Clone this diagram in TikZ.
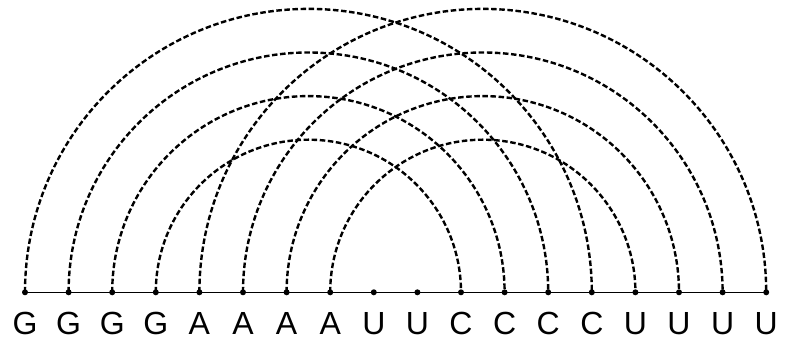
\documentclass[tikz,border=0pt]{standalone}
\usepackage{fontspec}
\setmainfont{Liberation Sans}
\begin{document}
\begin{tikzpicture}[x=1pt,y=1pt,
  dot/.style={circle,fill=black,inner sep=0pt,minimum size=6pt},
  base/.style={inner sep=0pt,font=\fontsize{32}{32}\selectfont},
  pairarc/.style={draw=black,line width=2.4pt,dash pattern=on 5.5pt off 2.6pt},
  backbone/.style={draw=black,line width=1.5pt}]
\useasboundingbox (0,0) rectangle (786,342);
\def\seq{{"G","G","G","G","A","A","A","A","U","U","C","C","C","C","U","U","U","U"}}
\foreach \i in {0,...,17} {
  \pgfmathsetmacro{\xx}{25+43.6*\i}
  \pgfmathsetmacro{\ll}{\seq[\i]}
  \coordinate (p\i) at (\xx,49.7);
  \node[base,anchor=base] (l\i) at (\xx,7) {\ll};
}
\draw[backbone] (p0) -- (p17);
\foreach \a/\b in {0/13,1/12,2/11,3/10,4/17,5/16,6/15,7/14} {
  \pgfmathsetmacro{\r}{43.6*(\b-\a)/2}
  \draw[pairarc] (p\a) arc[start angle=180,end angle=0,radius=\r];
}
\foreach \i in {0,...,17} {
  \node[dot] (d\i) at (p\i) {};
}
\end{tikzpicture}
\end{document}
